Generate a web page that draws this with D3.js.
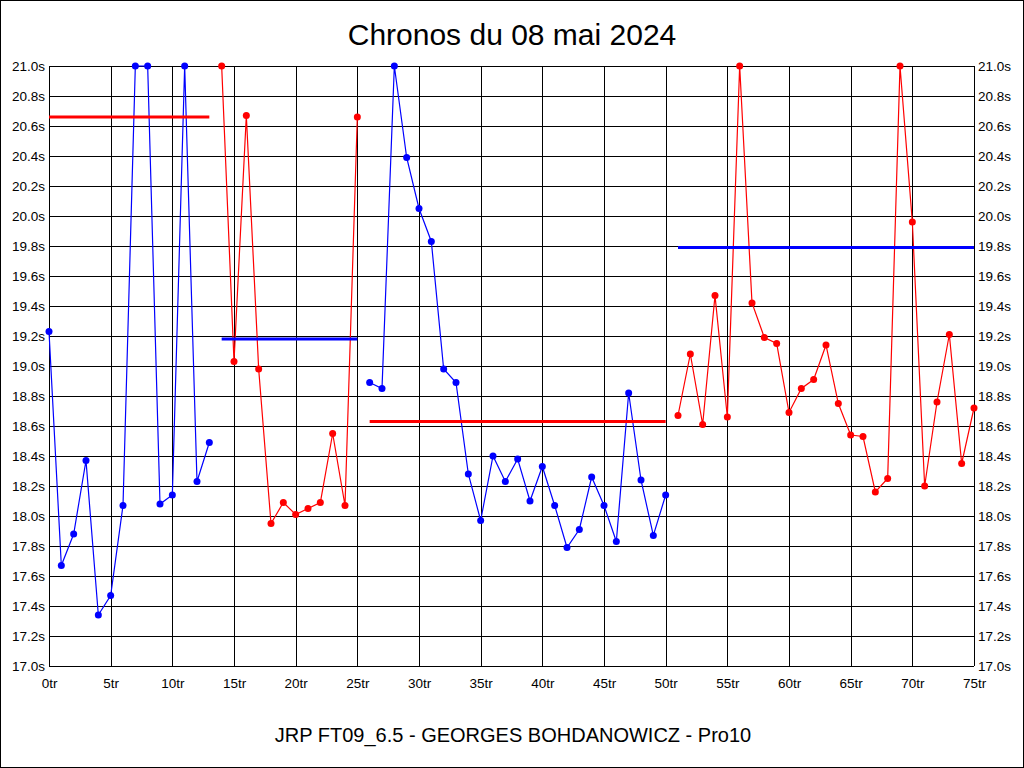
<!DOCTYPE html>
<html><head><meta charset="utf-8">
<script src="https://cdn.jsdelivr.net/npm/d3@7"></script>
<style>
html,body{margin:0;padding:0;background:#fff;}
svg{display:block;}
text{font-family:Arial,"Liberation Sans",sans-serif;}
</style></head><body>
<svg id="c" width="1024" height="768"></svg>
<script>
const title = "Chronos du 08 mai 2024";
const subtitle = "JRP FT09_6.5 - GEORGES BOHDANOWICZ - Pro10";
const xTicks = [0,5,10,15,20,25,30,35,40,45,50,55,60,65,70,75];
const yTicks = [17.0,17.2,17.4,17.6,17.8,18.0,18.2,18.4,18.6,18.8,19.0,19.2,19.4,19.6,19.8,20.0,20.2,20.4,20.6,20.8,21.0];

const seg1Laps = [0,1,2,3,4,5,6,7,8,9,10,11,12,13];
const seg1Times = [19.23,17.67,17.88,18.37,17.34,17.47,18.07,21.0,21.0,18.08,18.14,21.0,18.23,18.49];
const seg2Laps = [14,15,16,17,18,19,20,21,22,23,24,25];
const seg2Times = [21.0,19.03,20.67,18.98,17.95,18.09,18.01,18.05,18.09,18.55,18.07,20.66];
const seg3Laps = [26,27,28,29,30,31,32,33,34,35,36,37,38,39,40,41,42,43,44,45,46,47,48,49,50];
const seg3Times = [18.89,18.85,21.0,20.39,20.05,19.83,18.98,18.89,18.28,17.97,18.40,18.23,18.38,18.10,18.33,18.07,17.79,17.91,18.26,18.07,17.83,18.82,18.24,17.87,18.14];
const seg4Laps = [51,52,53,54,55,56,57,58,59,60,61,62,63,64,65,66,67,68,69,70,71,72,73,74,75];
const seg4Times = [18.67,19.08,18.61,19.47,18.66,21.0,19.42,19.19,19.15,18.69,18.85,18.91,19.14,18.75,18.54,18.53,18.16,18.25,21.0,19.96,18.20,18.76,19.21,18.35,18.72];

const avgStart = [0,14,26,51];
const avgEnd = [13,25,50,75];
const avgValues = [20.66,19.18,18.63,19.79];

const segColors = ["#0000ff","#ff0000","#0000ff","#ff0000"];
const avgColors = ["#ff0000","#0000ff","#ff0000","#0000ff"];

const svg = d3.select("#c");
const W=1024,H=768;
const L=49,R=974,T=66,B=666;
const x = d3.scaleLinear().domain([0,75]).range([L,R]);
const y = d3.scaleLinear().domain([17,21]).range([B,T]);

svg.append("rect").attr("x",0.5).attr("y",0.5).attr("width",W-1).attr("height",H-1)
  .attr("fill","#fff").attr("stroke","#000");

// grid
const g = svg.append("g").attr("shape-rendering","crispEdges");
g.selectAll(".hg").data(yTicks).join("line")
  .attr("x1",L).attr("x2",R).attr("y1",d=>Math.round(y(d))+0.5).attr("y2",d=>Math.round(y(d))+0.5)
  .attr("stroke","#000");
g.selectAll(".vg").data(xTicks).join("line")
  .attr("y1",T).attr("y2",B).attr("x1",d=>Math.round(x(d))+0.5).attr("x2",d=>Math.round(x(d))+0.5)
  .attr("stroke","#000");

const fmtY = d=>d.toFixed(1)+"s";
const axL = svg.append("g").attr("transform",`translate(${L},0)`)
  .call(d3.axisLeft(y).tickValues(yTicks).tickFormat(fmtY).tickSize(0).tickPadding(4));
const axR = svg.append("g").attr("transform",`translate(${R},0)`)
  .call(d3.axisRight(y).tickValues(yTicks).tickFormat(fmtY).tickSize(0).tickPadding(4));
const axB = svg.append("g").attr("transform",`translate(0,${B})`)
  .call(d3.axisBottom(x).tickValues(xTicks).tickFormat(d=>d+"tr").tickSize(0).tickPadding(12));
[axL,axR,axB].forEach(a=>{
  a.select(".domain").remove();
  a.selectAll("text").attr("font-size",13.5).attr("fill","#000").attr("font-family","Arial, 'Liberation Sans', sans-serif");
});

const segs = [[seg1Laps,seg1Times],[seg2Laps,seg2Times],[seg3Laps,seg3Times],[seg4Laps,seg4Times]];
const line = d3.line().x(d=>x(d[0])).y(d=>y(Math.min(21,d[1])));
segs.forEach((s,i)=>{
  const pts = s[0].map((l,k)=>[l,s[1][k]]);
  svg.append("path").datum(pts).attr("d",line).attr("fill","none")
    .attr("stroke",segColors[i]).attr("stroke-width",1.2);
});
avgValues.forEach((v,i)=>{
  svg.append("line").attr("x1",x(avgStart[i])).attr("x2",x(avgEnd[i]))
    .attr("y1",y(v)).attr("y2",y(v)).attr("stroke",avgColors[i]).attr("stroke-width",3);
});
segs.forEach((s,i)=>{
  const pts = s[0].map((l,k)=>[l,s[1][k]]);
  svg.append("g").selectAll("circle").data(pts).join("circle")
    .attr("cx",d=>x(d[0])).attr("cy",d=>y(Math.min(21,d[1]))).attr("r",3.5)
    .attr("fill",segColors[i]);
});

svg.append("text").attr("x",512).attr("y",45).attr("text-anchor","middle")
  .attr("font-size",30).text(title);
svg.append("text").attr("x",513).attr("y",742).attr("text-anchor","middle")
  .attr("font-size",20).text(subtitle);
</script>
</body></html>
